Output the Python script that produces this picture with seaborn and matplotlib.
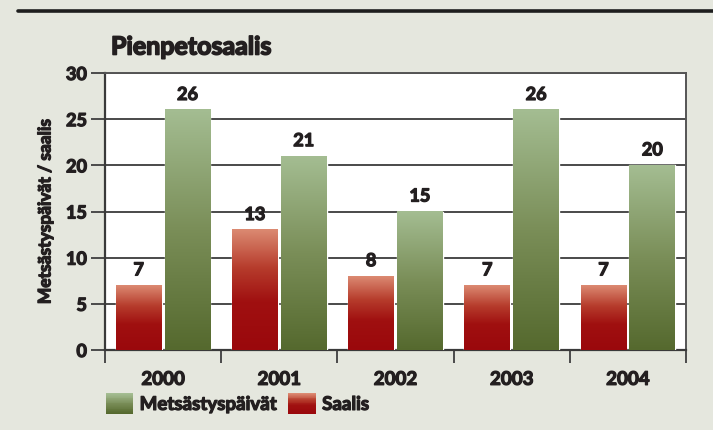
import numpy as np
import pandas as pd
import seaborn as sns
import matplotlib.pyplot as plt
import matplotlib.patheffects as pe
from matplotlib.patches import Rectangle
from matplotlib.legend_handler import HandlerBase
from matplotlib.colors import LinearSegmentedColormap
from matplotlib.lines import Line2D

## Data
years = ["2000", "2001", "2002", "2003", "2004"]
saalis = [7, 13, 8, 7, 7]
metsastyspaivat = [26, 21, 15, 26, 20]
series = ["Saalis", "Metsästyspäivät"]

df = pd.DataFrame({
    "vuosi": years * 2,
    "arvo": saalis + metsastyspaivat,
    "sarja": ["Saalis"] * len(years) + ["Metsästyspäivät"] * len(years),
})

## Colour stops, bottom -> top of bar
stops = {
    "Saalis": [(0, "#9a080c"), (0.4, "#a01010"), (0.68, "#b63c2c"), (1, "#dc8a72")],
    "Metsästyspäivät": [(0, "#55692e"), (0.5, "#7a8e58"), (1, "#a4bd92")],
}
bg = "#e5e7de"
ink = "#231f20"
W = "bold"
heavy = [pe.withStroke(linewidth=0.9, foreground=ink)]

sns.set_theme(style="white")
plt.rcParams["font.family"] = ["Lato", "DejaVu Sans"]


def make_cmap(name):
    return LinearSegmentedColormap.from_list(name, stops[name])


fig = plt.figure(figsize=(7.13, 4.30), dpi=100, facecolor=bg)
ax = fig.add_axes([105 / 713, 80 / 430, 581 / 713, 277 / 430])
ax.set_facecolor("white")

sns.barplot(data=df, x="vuosi", y="arvo", hue="sarja", hue_order=series,
            width=0.84, gap=0.06, palette=[stops[s][0][1] for s in series],
            legend=False, ax=ax, zorder=3)

# gradient fill for each bar
for cont, name in zip(ax.containers, series):
    cmap = make_cmap(name)
    for p in cont:
        x0, y0, w, h = p.get_x(), p.get_y(), p.get_width(), p.get_height()
        img = np.linspace(0, 1, 256).reshape(-1, 1)
        ax.imshow(img, cmap=cmap, origin="lower", aspect="auto",
                  extent=(x0, x0 + w, y0, y0 + h), zorder=4)
    labels = ax.bar_label(cont, fmt="%d", padding=5, fontsize=13, fontweight=W,
                          color=ink, zorder=5)
    for t in labels:
        t.set_path_effects(heavy)

ax.set_xlim(-0.5, len(years) - 0.5)
ax.set_ylim(0, 30)

# grid and axes
ax.set_yticks(range(0, 31, 5))
ax.yaxis.grid(True, color="#4a4a4a", linewidth=1.4, zorder=1)
ax.set_axisbelow(True)
ax.tick_params(axis="y", length=10, width=1.4, color="#4a4a4a", direction="out",
               labelsize=13, labelcolor=ink, pad=3, left=True)
ax.set_xticks(range(len(years)))
ax.set_xticklabels(years)
ax.set_xticks(np.arange(-0.5, len(years), 1), minor=True)
ax.tick_params(axis="x", which="major", length=0, labelsize=13.5,
               labelcolor=ink, pad=15)
ax.tick_params(axis="x", which="minor", length=9, width=1.4,
               color="#4a4a4a", direction="out", bottom=True)
for lbl in ax.get_xticklabels() + ax.get_yticklabels():
    lbl.set_fontweight(W)
    lbl.set_path_effects(heavy)

for side in ["left", "bottom"]:
    ax.spines[side].set_color("#3a3a3a")
    ax.spines[side].set_linewidth(1.6)
for side in ["top", "right"]:
    ax.spines[side].set_color("#555555")
    ax.spines[side].set_linewidth(1.4)

ax.set_xlabel("")
ylab = ax.set_ylabel("Metsästyspäivät / saalis", fontsize=12.5, fontweight=W,
                     color=ink, labelpad=9)
ylab.set_path_effects(heavy)

## title and top rule
fig.text(111 / 713, 1 - 47 / 430, "Pienpetosaalis", fontsize=18,
         fontweight=W, color=ink, va="center", ha="left",
         path_effects=[pe.withStroke(linewidth=1.2, foreground=ink)])
fig.add_artist(Line2D([18 / 713, 1], [1 - 11 / 430, 1 - 11 / 430],
                      transform=fig.transFigure, color="#1e1e1e", linewidth=2.6))


## legend with gradient swatches
class GradHandler(HandlerBase):
    def __init__(self, name):
        super().__init__()
        self.name = name

    def create_artists(self, legend, orig_handle, xdescent, ydescent,
                       width, height, fontsize, trans):
        cmap = make_cmap(self.name)
        n = 24
        arts = []
        h0 = height * 1.2
        y_start = -ydescent - (h0 - height) / 2
        for i in range(n):
            arts.append(Rectangle((-xdescent, y_start + h0 * i / n), width,
                                  h0 / n + 0.05, facecolor=cmap(i / (n - 1)),
                                  edgecolor="none", transform=trans))
        return arts


h_m = Rectangle((0, 0), 1, 1)
h_s = Rectangle((0, 0), 1, 1)
leg = fig.legend([h_m, h_s], ["Metsästyspäivät", "Saalis"], ncol=2,
                 loc="center left", bbox_to_anchor=(89 / 713, 1 - 404 / 430),
                 frameon=False, handlelength=1.45, handleheight=1.0,
                 handletextpad=0.35, columnspacing=0.6,
                 prop={"size": 13.5, "weight": W},
                 handler_map={h_m: GradHandler("Metsästyspäivät"),
                              h_s: GradHandler("Saalis")})
for t in leg.get_texts():
    t.set_color(ink)
    t.set_path_effects(heavy)

fig.savefig("out.png", dpi=100, facecolor=bg)
